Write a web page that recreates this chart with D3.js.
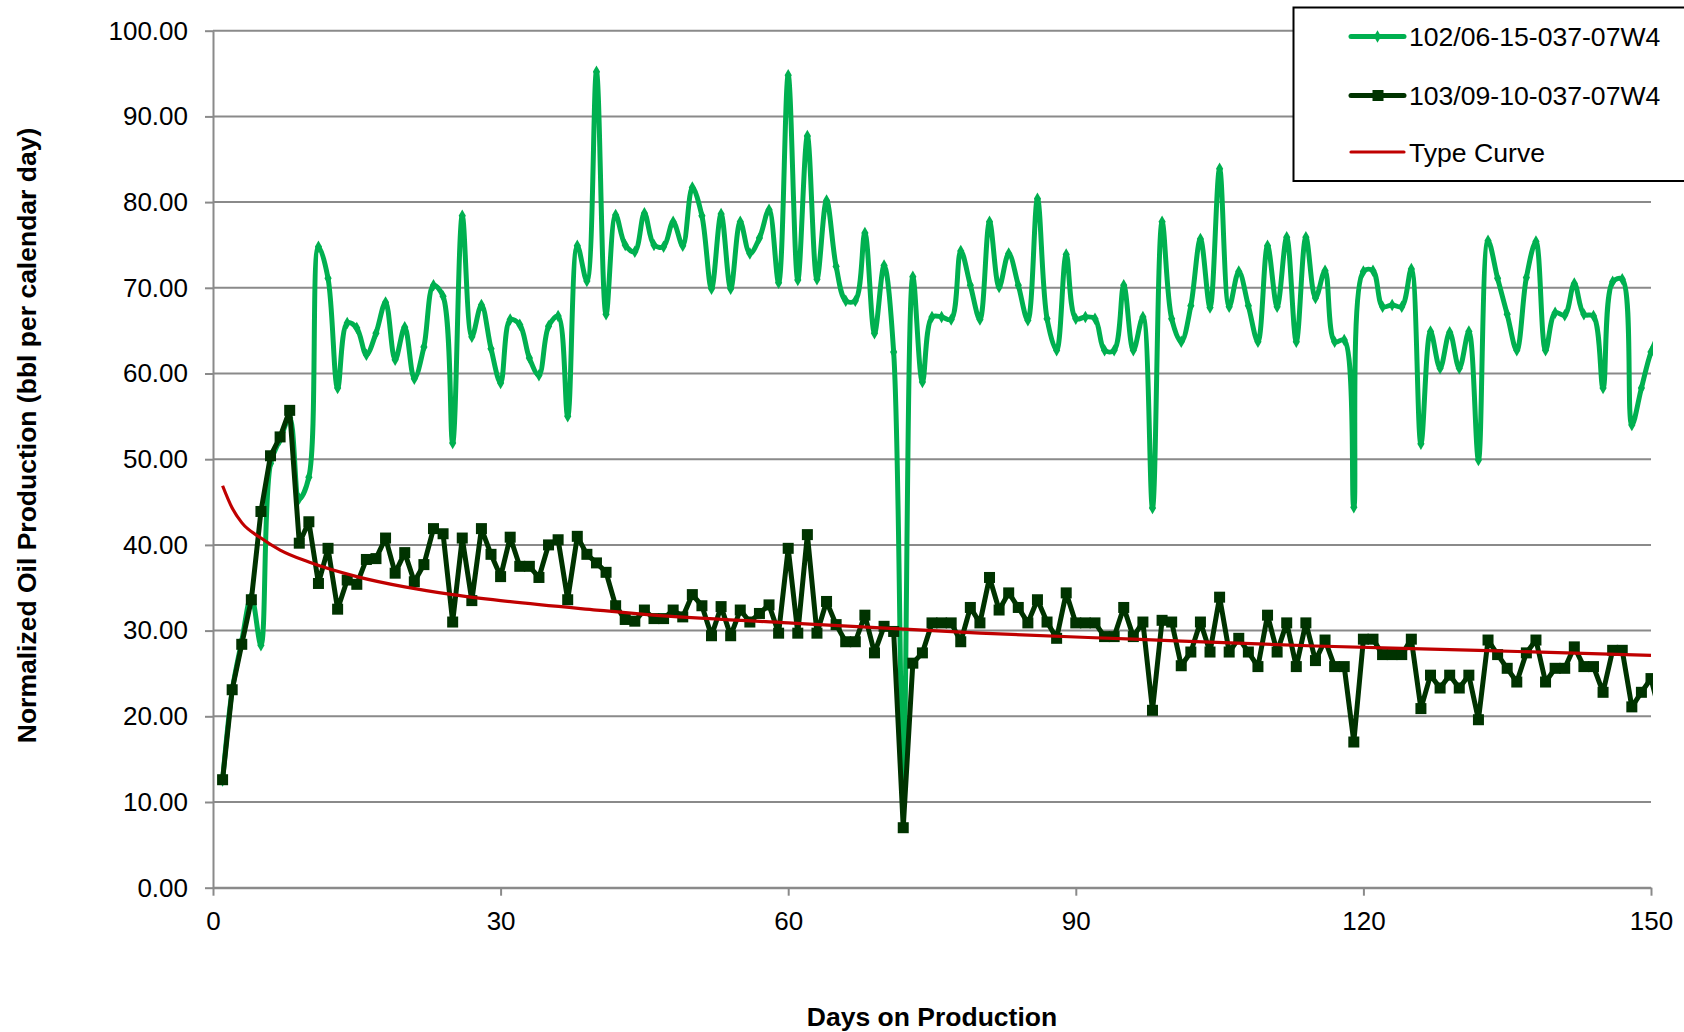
<!DOCTYPE html>
<html>
<head>
<meta charset="utf-8">
<script src="https://cdn.jsdelivr.net/npm/d3@7/dist/d3.min.js"></script>
<style>
body { margin: 0; background: #ffffff; }
text { font-family: "Liberation Sans", Arial, sans-serif; }
</style>
</head>
<body>
<script>
//Chart data: daily normalized oil rates, day 1 onwards

var well1Name = "102/06-15-037-07W4";
var well1Rates = [
    12.5, 23.0, 28.8, 34.0, 28.3, 49.5, 52.3, 54.8, 45.4, 47.9,
    74.8, 71.1, 58.3, 65.9, 65.3, 62.2, 64.7, 68.3, 61.6, 65.4,
    59.4, 63.1, 70.3, 69.0, 51.9, 78.4, 64.3, 68.0, 62.9, 58.9,
    66.3, 65.7, 61.8, 59.8, 65.5, 66.7, 55.0, 74.9, 70.8, 95.2,
    66.9, 78.5, 75.0, 74.2, 78.7, 75.0, 74.8, 77.7, 74.9, 81.7,
    78.4, 69.9, 78.6, 69.9, 77.7, 74.0, 75.8, 79.1, 70.6, 94.8,
    70.9, 87.7, 71.0, 80.2, 72.5, 68.5, 68.5, 76.4, 64.7, 72.6,
    62.5, 13.0, 71.3, 59.0, 66.6, 66.6, 66.3, 74.3, 70.3, 66.3,
    77.7, 70.1, 74.0, 70.3, 66.2, 80.4, 66.4, 62.7, 73.9, 66.4,
    66.6, 66.4, 62.7, 62.7, 70.3, 62.7, 66.6, 44.3, 77.7, 66.4,
    63.7, 67.9, 75.7, 67.7, 83.9, 67.8, 71.9, 67.9, 63.7, 74.9,
    67.8, 75.9, 63.7, 75.9, 68.8, 72.0, 63.7, 63.9, 44.4, 71.9,
    72.0, 67.8, 68.0, 67.8, 72.2, 51.8, 64.9, 60.6, 64.8, 60.6,
    64.9, 49.9, 75.5, 71.1, 66.9, 62.7, 71.2, 75.4, 62.7, 67.1,
    66.8, 70.5, 66.9, 66.7, 58.3, 70.7, 71.0, 54.0, 58.3, 62.5,
    65.0
];

var well2Name = "103/09-10-037-07W4";
var well2Rates = [
    12.6, 23.1, 28.4, 33.6, 43.9, 50.4, 52.6, 55.7, 40.2, 42.7,
    35.5, 39.6, 32.5, 35.9, 35.4, 38.3, 38.4, 40.8, 36.7, 39.1,
    35.7, 37.7, 41.9, 41.3, 31.0, 40.8, 33.5, 41.9, 38.9, 36.3,
    40.9, 37.5, 37.5, 36.2, 40.0, 40.6, 33.6, 41.0, 38.9, 37.9,
    36.8, 32.9, 31.3, 31.1, 32.4, 31.4, 31.4, 32.4, 31.6, 34.2,
    32.9, 29.4, 32.8, 29.4, 32.4, 31.0, 32.0, 33.0, 29.7, 39.6,
    29.7, 41.2, 29.7, 33.4, 30.7, 28.7, 28.7, 31.8, 27.4, 30.5,
    29.9, 7.0, 26.2, 27.4, 30.9, 30.9, 30.9, 28.7, 32.7, 30.9,
    36.2, 32.4, 34.4, 32.7, 30.9, 33.6, 31.0, 29.1, 34.4, 30.9,
    30.9, 30.9, 29.3, 29.3, 32.7, 29.3, 31.0, 20.7, 31.2, 31.0,
    25.9, 27.5, 31.0, 27.5, 33.9, 27.5, 29.1, 27.5, 25.8, 31.8,
    27.5, 30.9, 25.8, 30.9, 26.5, 28.9, 25.8, 25.8, 17.0, 29.0,
    29.0, 27.2, 27.2, 27.2, 29.0, 20.9, 24.8, 23.3, 24.8, 23.3,
    24.8, 19.6, 28.9, 27.2, 25.6, 24.0, 27.4, 28.9, 24.0, 25.6,
    25.6, 28.1, 25.8, 25.8, 22.8, 27.7, 27.7, 21.1, 22.8, 24.4,
    20.0
];

var typeCurveName = "Type Curve";
var typeCurveDays = [1, 2, 3, 5, 7, 10, 15, 20, 25, 30, 40, 45, 60, 80, 96, 115, 132, 150];
var typeCurveRates = [46.9, 44.3, 42.6, 40.8, 39.4, 38.0, 36.3, 35.1, 34.2, 33.5, 32.4, 31.9, 30.9, 29.7, 29.0, 28.2, 27.7, 27.1];

var xTicks = [0, 30, 60, 90, 120, 150];
var yTicks = [0, 10, 20, 30, 40, 50, 60, 70, 80, 90, 100];

var xTitle = "Days on Production";
var yTitle = "Normalized Oil Production (bbl per calendar day)";

//Set size and margins for chart

var svgwidth = 1684;
var svgheight = 1032;

var margin = {
    top: 30.7,
    right: 33,
    bottom: 144.3,
    left: 213
};

var width = svgwidth - margin.left - margin.right;
var height = svgheight - margin.top - margin.bottom;

var gridColor = "#8a8a8a";
var lightGreen = "#00b050";
var darkGreen = "#003300";
var red = "#c00000";

//Create svg wrapper

var svg = d3.select("body")
    .append("svg")
    .attr("width", svgwidth)
    .attr("height", svgheight);

svg.append("rect")
    .attr("width", svgwidth)
    .attr("height", svgheight)
    .attr("fill", "#ffffff");

var chartGroup = svg.append("g")
    .attr("transform", `translate(${margin.left}, ${margin.top})`);

//Scales

var xScale = d3.scaleLinear()
    .domain([0, 150])
    .range([0, width]);

var yScale = d3.scaleLinear()
    .domain([0, 100])
    .range([height, 0]);

//Gridlines

chartGroup.append("g")
    .selectAll("line")
    .data(yTicks)
    .enter()
    .append("line")
    .attr("x1", 0)
    .attr("x2", width)
    .attr("y1", d => yScale(d))
    .attr("y2", d => yScale(d))
    .attr("stroke", gridColor)
    .attr("stroke-width", 2);

//Axes

var leftAxis = d3.axisLeft(yScale)
    .tickValues(yTicks)
    .tickFormat(d3.format(".2f"))
    .tickSize(8)
    .tickSizeOuter(0)
    .tickPadding(17);

var bottomAxis = d3.axisBottom(xScale)
    .tickValues(xTicks)
    .tickFormat(d3.format("d"))
    .tickSize(8)
    .tickSizeOuter(0)
    .tickPadding(16);

var yAxisGroup = chartGroup.append("g")
    .call(leftAxis);

var xAxisGroup = chartGroup.append("g")
    .attr("transform", `translate(0, ${height})`)
    .call(bottomAxis);

[yAxisGroup, xAxisGroup].forEach(function(g) {
    g.select(".domain").attr("stroke", gridColor).attr("stroke-width", 2);
    g.selectAll(".tick line").attr("stroke", gridColor).attr("stroke-width", 2);
    g.selectAll(".tick text")
        .attr("fill", "#000")
        .style("font-size", "26px")
        .style("font-family", "'Liberation Sans', Arial, sans-serif");
});

//Clip the series to the plot area

svg.append("defs")
    .append("clipPath")
    .attr("id", "plotClip")
    .append("rect")
    .attr("x", -5)
    .attr("y", -10)
    .attr("width", width + 7)
    .attr("height", height + 20);

var seriesGroup = chartGroup.append("g")
    .attr("clip-path", "url(#plotClip)");

var well1Data = well1Rates.map((v, i) => ({day: i + 1, rate: v}));
var well2Data = well2Rates.map((v, i) => ({day: i + 1, rate: v}));
var typeData = typeCurveDays.map((d, i) => ({day: d, rate: typeCurveRates[i]}));

//Line generators

var smoothLine = d3.line()
    .x(d => xScale(d.day))
    .y(d => yScale(d.rate))
    .curve(d3.curveCatmullRom.alpha(0.5));

var straightLine = d3.line()
    .x(d => xScale(d.day))
    .y(d => yScale(d.rate));

var typeLine = d3.line()
    .x(d => xScale(d.day))
    .y(d => yScale(d.rate))
    .curve(d3.curveMonotoneX);

//Well 1: smoothed line with small diamonds

seriesGroup.append("path")
    .datum(well1Data)
    .attr("d", smoothLine)
    .attr("fill", "none")
    .attr("stroke", lightGreen)
    .attr("stroke-width", 5)
    .attr("stroke-linejoin", "round");

seriesGroup.append("g")
    .selectAll("path")
    .data(well1Data)
    .enter()
    .append("path")
    .attr("d", d3.symbol(d3.symbolDiamond).size(45))
    .attr("transform", d => `translate(${xScale(d.day)}, ${yScale(d.rate)})`)
    .attr("fill", lightGreen);

//Well 2: straight line with squares

seriesGroup.append("path")
    .datum(well2Data)
    .attr("d", straightLine)
    .attr("fill", "none")
    .attr("stroke", darkGreen)
    .attr("stroke-width", 5)
    .attr("stroke-linejoin", "round");

seriesGroup.append("g")
    .selectAll("rect")
    .data(well2Data)
    .enter()
    .append("rect")
    .attr("x", d => xScale(d.day) - 5.5)
    .attr("y", d => yScale(d.rate) - 5.5)
    .attr("width", 11)
    .attr("height", 11)
    .attr("fill", darkGreen);

//Type curve

seriesGroup.append("path")
    .datum(typeData)
    .attr("d", typeLine)
    .attr("fill", "none")
    .attr("stroke", red)
    .attr("stroke-width", 3.2);

//Axis titles

svg.append("text")
    .attr("x", margin.left + width / 2)
    .attr("y", 1026)
    .attr("text-anchor", "middle")
    .style("font-size", "26.5px")
    .style("font-weight", "bold")
    .text(xTitle);

svg.append("text")
    .attr("transform", "translate(36, 435.5) rotate(-90)")
    .attr("text-anchor", "middle")
    .style("font-size", "26.5px")
    .style("font-weight", "bold")
    .text(yTitle);

//Legend

var legendGroup = svg.append("g");

legendGroup.append("rect")
    .attr("x", 1293.5)
    .attr("y", 7.5)
    .attr("width", 420)
    .attr("height", 173.5)
    .attr("fill", "#ffffff")
    .attr("stroke", "#000")
    .attr("stroke-width", 2);

var legendItems = [
    {name: well1Name, color: lightGreen, width: 5, marker: "diamond", y: 36.5},
    {name: well2Name, color: darkGreen, width: 5, marker: "square", y: 95.5},
    {name: typeCurveName, color: red, width: 3.2, marker: "none", y: 152}
];

var legendRows = legendGroup.selectAll("g.row")
    .data(legendItems)
    .enter()
    .append("g")
    .attr("class", "row")
    .attr("transform", d => `translate(0, ${d.y})`);

legendRows.append("line")
    .attr("x1", 1351)
    .attr("x2", 1404)
    .attr("stroke", d => d.color)
    .attr("stroke-width", d => d.width)
    .attr("stroke-linecap", "round");

legendRows.filter(d => d.marker === "diamond")
    .append("path")
    .attr("d", d3.symbol(d3.symbolDiamond).size(45))
    .attr("transform", "translate(1377.5, 0)")
    .attr("fill", lightGreen);

legendRows.filter(d => d.marker === "square")
    .append("rect")
    .attr("x", 1372.5)
    .attr("y", -5.5)
    .attr("width", 11)
    .attr("height", 11)
    .attr("fill", darkGreen);

legendRows.append("text")
    .attr("x", 1409)
    .attr("dy", "0.36em")
    .style("font-size", "26.6px")
    .text(d => d.name);

</script>
</body>
</html>
